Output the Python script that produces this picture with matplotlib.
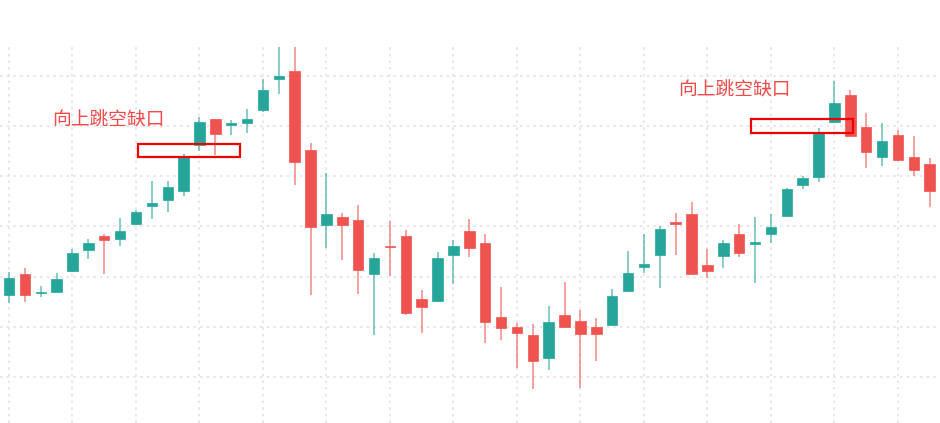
import matplotlib
matplotlib.use("Agg")
import matplotlib.pyplot as plt
from matplotlib.patches import Rectangle
import numpy as np

plt.rcParams['font.family'] = ['Noto Sans CJK SC', 'DejaVu Sans']

# OHLC data (one candle per session)
opens = [26.4, 30.5, 26.7, 27.0, 31.2, 35.3, 38.2, 37.6, 40.5, 44.1,
         45.3, 47.1, 56.2, 61.3, 60.2, 60.5, 63.2, 69.3, 70.9, 55.3,
         40.3, 41.9, 41.3, 30.5, 36.2, 38.1, 25.6, 25.2, 34.3, 39.1,
         36.8, 21.9, 19.9, 18.5, 13.8, 22.4, 21.2, 19.9, 20.3, 27.2,
         32.0, 34.3, 40.9, 42.5, 32.3, 34.1, 38.4, 36.6, 38.5, 42.1,
         48.2, 49.8, 60.8, 66.1, 59.7, 53.9, 58.2, 53.9, 52.4]
highs = [31.0, 31.7, 28.2, 30.8, 35.5, 37.5, 38.4, 41.6, 43.3, 49.0,
         49.0, 54.4, 61.8, 61.3, 61.2, 63.3, 69.3, 76.0, 76.0, 56.7,
         50.7, 42.6, 44.3, 34.7, 41.1, 39.2, 27.4, 35.0, 37.4, 41.4,
         38.4, 27.9, 20.7, 20.6, 24.2, 29.0, 23.4, 21.8, 27.6, 35.2,
         38.5, 40.0, 42.6, 44.8, 35.5, 37.3, 40.5, 41.9, 42.5, 47.7,
         50.0, 59.6, 69.0, 67.1, 62.6, 60.5, 59.2, 57.9, 53.6]
lows = [24.8, 25.0, 26.0, 27.0, 31.0, 33.5, 30.5, 36.1, 40.3, 41.4,
        42.9, 46.1, 55.1, 54.2, 58.1, 58.6, 62.8, 66.3, 48.2, 26.4,
        35.8, 33.3, 26.6, 18.4, 30.1, 22.4, 18.9, 25.0, 28.6, 34.0,
        16.8, 17.4, 11.8, 7.7, 11.4, 19.7, 7.8, 13.3, 20.3, 27.2,
        30.7, 27.8, 34.3, 30.5, 29.7, 31.7, 33.9, 28.7, 36.8, 41.9,
        47.5, 48.9, 60.6, 57.9, 51.7, 52.0, 53.1, 50.0, 43.9]
closes = [29.7, 26.4, 27.0, 29.5, 34.8, 36.8, 37.3, 39.1, 42.9, 44.7,
          47.8, 53.9, 60.8, 58.4, 60.5, 61.3, 67.1, 69.9, 52.9, 39.8,
          42.4, 40.3, 31.3, 33.8, 35.9, 22.7, 24.0, 33.8, 36.1, 35.7,
          20.9, 19.7, 18.9, 13.3, 20.9, 19.9, 18.7, 18.7, 26.2, 30.7,
          32.5, 39.5, 40.5, 30.6, 31.2, 36.8, 34.8, 37.0, 39.8, 47.4,
          49.7, 58.5, 64.6, 58.0, 54.9, 57.0, 53.2, 51.2, 47.1]

# Gap annotations: (left index, right index, lower price, upper price)
gap_label = "向上跳空缺口"
gap_x0 = [8.15, 46.74]
gap_x1 = [14.55, 53.17]
gap_lo = [53.9, 58.6]
gap_hi = [56.5, 61.3]
label_x = [2.7, 42.15]
label_y = [61.2, 67.1]

UP = '#26a69a'
DOWN = '#ef5350'

fig = plt.figure(figsize=(9.4, 4.23), dpi=100)
ax = fig.add_axes([0, 0, 1, 376 / 423])

x = np.arange(len(opens))
o = np.array(opens); h = np.array(highs); l = np.array(lows); c = np.array(closes)
up = c >= o
cols = np.where(up, UP, DOWN)

ax.vlines(x, l, h, colors=cols, linewidth=1.1, alpha=0.7, zorder=2)
bottoms = np.minimum(o, c)
heights = np.maximum(np.abs(c - o), 0.3)
ax.bar(x, heights, bottom=bottoms, width=0.66, color=cols, edgecolor=cols,
       linewidth=0.5, zorder=3)

for x0, x1, lo, hi in zip(gap_x0, gap_x1, gap_lo, gap_hi):
    ax.add_patch(Rectangle((x0, lo), x1 - x0, hi - lo, fill=False,
                           edgecolor='#f00000', linewidth=1.6, zorder=4))
for tx, ty in zip(label_x, label_y):
    ax.text(tx, ty, gap_label, color='#f04a4a', fontsize=13.5,
            ha='left', va='center', zorder=5)

ax.set_xlim(-0.567, 58.65)
ax.set_ylim(0.9, 75.7)
ax.set_xticks(np.arange(0, 59, 4))
ax.set_yticks(np.arange(10, 71, 10))
ax.grid(True, color='#e3e3e3', linestyle=(0, (1.5, 2.5)), linewidth=1.2)
ax.set_axisbelow(True)
ax.tick_params(length=0, labelbottom=False, labelleft=False)
for s in ax.spines.values():
    s.set_visible(False)

fig.savefig('out.png', dpi=100)
